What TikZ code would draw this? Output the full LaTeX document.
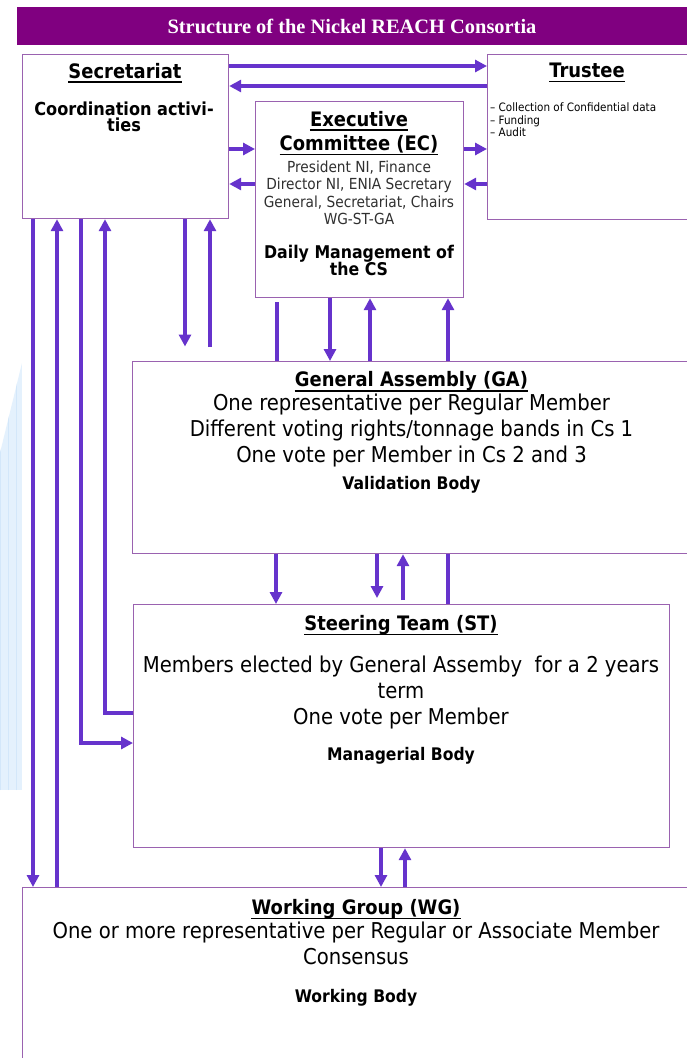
\documentclass[tikz,border=0pt]{standalone}
\usepackage{fontspec}
\setmainfont{DejaVu Sans}[FakeStretch=0.9]
\newfontfamily\hdrfont{Liberation Serif}
\usetikzlibrary{arrows.meta}
\definecolor{hdrc}{HTML}{800080}
\definecolor{arrc}{HTML}{6633CC}
\definecolor{boxc}{HTML}{9A62B0}
\definecolor{wmc}{HTML}{E4F1FD}
\definecolor{wmgrid}{HTML}{D3E7FA}
\definecolor{ecgray}{HTML}{303030}
\begin{document}
\begin{tikzpicture}[x=1bp,y=-1bp,
  box/.style={draw=boxc, line width=1.2bp, fill=white, anchor=north west, inner sep=0},
  txt/.style={inner sep=0, anchor=base},
  lt/.style={inner sep=0, anchor=base west, font=\fontsize{11.6}{13}\selectfont},
  ttl/.style={txt, font=\bfseries\fontsize{20}{24}\selectfont},
  body/.style={txt, font=\fontsize{21.9}{26}\selectfont},
  bbody/.style={txt, font=\bfseries\fontsize{17.4}{21}\selectfont},
  ecbody/.style={txt, text=ecgray, font=\fontsize{15.3}{18}\selectfont},
  coordf/.style={txt, font=\bfseries\fontsize{18}{20}\selectfont},
  dailyf/.style={txt, font=\bfseries\fontsize{17.6}{20}\selectfont},
  ulin/.style={line width=1.5bp, black},
  conn/.style={draw=arrc, line width=3.2bp},
  arr/.style={conn, -{Triangle[length=12bp,width=12bp]}}
]
\useasboundingbox (0,0) rectangle (687,1058);
\clip (0,0) rectangle (687,1058);
\fill[white] (0,0) rectangle (687,1058);

% watermark
\begin{scope}
  \clip (0,453) -- (22,363) -- (22,790) -- (0,790) -- cycle;
  \fill[wmc] (0,355) rectangle (22,790);
  \draw[wmgrid, line width=0.5bp] (0,355) grid[step=8] (22,790);
\end{scope}

% header
\node[fill=hdrc, anchor=north west, minimum width=670bp, minimum height=38bp, inner sep=0] (hbar) at (17,7) {};
\node[txt, text=white, font=\hdrfont\bfseries\fontsize{20.5}{24}\selectfont] (htxt) at (352,33.5) {Structure of the Nickel REACH Consortia};

% boxes
\node[box, minimum width=206bp, minimum height=164bp] (sec) at (22,54) {};
\node[box, minimum width=202bp, minimum height=165bp] (tru) at (487,54) {};
\node[box, minimum width=208bp, minimum height=196bp] (ec) at (255,101) {};
\node[box, minimum width=560bp, minimum height=192bp] (ga) at (132,361) {};
\node[box, minimum width=536bp, minimum height=243bp] (st) at (133,604) {};
\node[box, minimum width=670bp, minimum height=200bp] (wg) at (22,887) {};

% Secretariat text
\node[ttl] (sect) at (125,78) {Secretariat};
\draw[ulin] ([yshift=-4bp]sect.base west) -- ([yshift=-4bp]sect.base east);
\node[coordf] (secc1) at (124,115) {Coordination activi-};
\node[coordf] (secc2) at (124,131) {ties};

% Trustee text
\node[ttl] (trut) at (587,77.7) {Trustee};
\draw[ulin] ([yshift=-4bp]trut.base west) -- ([yshift=-4bp]trut.base east);
\node[lt] (trb1) at (490,111.5) {– Collection of Confidential data};
\node[lt] (trb2) at (490,124) {– Funding};
\node[lt] (trb3) at (490,136.5) {– Audit};

% EC text
\node[ttl] (ect1) at (359,126) {Executive};
\draw[ulin] ([yshift=-4bp]ect1.base west) -- ([yshift=-4bp]ect1.base east);
\node[ttl] (ect2) at (359,150) {Committee (EC)};
\draw[ulin] ([yshift=-4.5bp]ect2.base west) -- ([yshift=-4.5bp]ect2.base east);
\node[ecbody] (ecm1) at (359,172) {President NI, Finance};
\node[ecbody] (ecm2) at (359,189.5) {Director NI, ENIA Secretary};
\node[ecbody] (ecm3) at (359,207) {General, Secretariat, Chairs};
\node[ecbody] (ecm4) at (359,224.5) {WG-ST-GA};
\node[dailyf] (ecd1) at (359,258) {Daily Management of};
\node[dailyf] (ecd2) at (359,275) {the CS};

% GA text
\node[ttl] (gat) at (411.5,386.7) {General Assembly (GA)};
\draw[ulin] ([yshift=-4.5bp]gat.base west) -- ([yshift=-4.5bp]gat.base east);
\node[body] (ga1) at (411.5,410.7) {One representative per Regular Member};
\node[body] (ga2) at (411.5,436.7) {Different voting rights/tonnage bands in Cs 1};
\node[body] (ga3) at (411.5,462.7) {One vote per Member in Cs 2 and 3};
\node[bbody] (ga4) at (411.5,489.3) {Validation Body};

% ST text
\node[ttl] (stt) at (401,630) {Steering Team (ST)};
\draw[ulin] ([yshift=-4.5bp]stt.base west) -- ([yshift=-4.5bp]stt.base east);
\node[body] (st1) at (401,672.7) {Members elected by General Assemby\ \ for a 2 years};
\node[body] (st2) at (401,698) {term};
\node[body] (st3) at (401,724) {One vote per Member};
\node[bbody] (st4) at (401,760) {Managerial Body};

% WG text
\node[ttl] (wgt) at (356,914) {Working Group (WG)};
\draw[ulin] ([yshift=-4.5bp]wgt.base west) -- ([yshift=-4.5bp]wgt.base east);
\node[body] (wg1) at (356,938) {One or more representative per Regular or Associate Member};
\node[body] (wg2) at (356,964) {Consensus};
\node[bbody] (wg3) at (356,1002) {Working Body};

% connectors Sec <-> Trustee
\draw[arr] (sec.east |- 0,66) -- (tru.west |- 0,66);
\draw[arr] (tru.west |- 0,86) -- (sec.east |- 0,86);
% Sec <-> EC
\draw[arr] (sec.east |- 0,149) -- (ec.west |- 0,149);
\draw[arr] (ec.west |- 0,184) -- (sec.east |- 0,184);
% EC <-> Trustee
\draw[arr] (ec.east |- 0,149) -- (tru.west |- 0,149);
\draw[arr] (tru.west |- 0,184) -- (ec.east |- 0,184);
% Sec <-> WG
\draw[arr] (sec.south -| 33,0) -- (wg.north -| 33,0);
\draw[arr] (wg.north -| 57,0) -- (sec.south -| 57,0);
% Sec <-> ST
\draw[arr] (sec.south -| 81,0) |- (st.west |- 0,743);
\draw[arr] (st.west |- 0,713) -| (sec.south -| 105,0);
% Sec <-> free ends above GA
\coordinate (gaend1) at (185,346.5);
\coordinate (gaend2) at (210,347);
\draw[arr] (sec.south -| 185,0) -- (gaend1);
\draw[arr] (gaend2) -- (sec.south -| 210,0);
% EC <-> GA
\draw[conn, shorten <=4bp] (ec.south -| 277,0) -- (ga.north -| 277,0);
\draw[arr] (ec.south -| 330,0) -- (ga.north -| 330,0);
\draw[arr] (ga.north -| 370,0) -- (ec.south -| 370,0);
\draw[arr] (ga.north -| 448,0) -- (ec.south -| 448,0);
% GA <-> ST
\coordinate (stend1) at (377,598);
\coordinate (stend2) at (403,600);
\draw[arr] (ga.south -| 276,0) -- (st.north -| 276,0);
\draw[arr] (ga.south -| 377,0) -- (stend1);
\draw[arr] (stend2) -- (ga.south -| 403,0);
\draw[conn] (ga.south -| 448,0) -- (st.north -| 448,0);
% ST <-> WG
\draw[arr] (st.south -| 381,0) -- (wg.north -| 381,0);
\draw[arr] (wg.north -| 405,0) -- (st.south -| 405,0);
\end{tikzpicture}
\end{document}
